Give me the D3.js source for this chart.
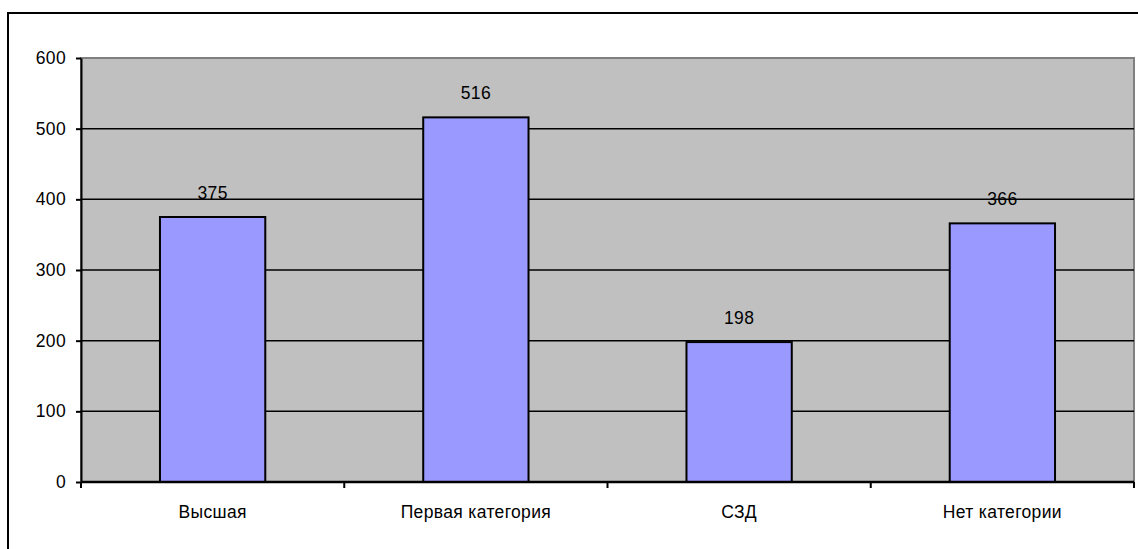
<!DOCTYPE html>
<html>
<head>
<meta charset="utf-8">
<script src="https://cdn.jsdelivr.net/npm/d3@7"></script>
<style>
  body { margin: 0; background: #fff; }
  text { font-family: "Liberation Sans", Arial, sans-serif; font-size: 17.5px; letter-spacing: 0.35px; fill: #000; }
</style>
</head>
<body>
<svg id="chart" width="1138" height="549"></svg>
<script>
var categories = ["Высшая", "Первая категория", "СЗД", "Нет категории"];
var values = [375, 516, 198, 366];
var yTicks = [0, 100, 200, 300, 400, 500, 600];

var margin = {top: 58, right: 4, bottom: 67, left: 81},
    width = 1138 - margin.left - margin.right,
    height = 549 - margin.top - margin.bottom;

var svg = d3.select("#chart");

// outer frame (runs off the right and bottom of the picture)
svg.append("rect")
    .attr("x", 8).attr("y", 13)
    .attr("width", 1140).attr("height", 560)
    .attr("fill", "none")
    .attr("stroke", "#000")
    .attr("stroke-width", 2);

var g = svg.append("g")
    .attr("transform", "translate(" + margin.left + "," + margin.top + ")");

var x = d3.scaleBand().domain(categories).range([0, width]).paddingInner(0).paddingOuter(0);
var y = d3.scaleLinear().domain([0, 600]).range([height, 0]);

// plot area
g.append("rect")
    .attr("width", width).attr("height", height)
    .attr("fill", "#c0c0c0")
    .attr("stroke", "#808080")
    .attr("stroke-width", 2);

// gridlines
g.selectAll(".grid")
    .data(yTicks.filter(function(d) { return d > 0 && d < 600; }))
  .enter().append("line")
    .attr("x1", 0).attr("x2", width)
    .attr("y1", function(d) { return y(d); })
    .attr("y2", function(d) { return y(d); })
    .attr("stroke", "#000")
    .attr("stroke-width", 1.5);

// bars
var bw = x.bandwidth() * 0.4;
g.selectAll(".bar")
    .data(values)
  .enter().append("rect")
    .attr("class", "bar")
    .attr("x", function(d, i) { return x(categories[i]) + (x.bandwidth() - bw) / 2; })
    .attr("y", function(d) { return y(d); })
    .attr("width", bw)
    .attr("height", function(d) { return height - y(d); })
    .attr("fill", "#9999ff")
    .attr("stroke", "#000")
    .attr("stroke-width", 2);

// value labels
g.selectAll(".val")
    .data(values)
  .enter().append("text")
    .attr("x", function(d, i) { return x(categories[i]) + x.bandwidth() / 2; })
    .attr("y", function(d) { return y(d) - 18; })
    .attr("text-anchor", "middle")
    .text(function(d) { return d; });

// y axis
var yAxis = g.append("g")
    .call(d3.axisLeft(y).tickValues(yTicks).tickSize(5).tickSizeOuter(0).tickPadding(10));
yAxis.select(".domain").attr("stroke", "#000").attr("stroke-width", 2);
yAxis.selectAll(".tick line").attr("stroke", "#000").attr("stroke-width", 2);
yAxis.selectAll("text")
    .style("font-size", "17.5px")
    .style("font-family", "Liberation Sans, Arial, sans-serif");

// x axis
var bounds = [0].concat(categories.map(function(c) { return x(c) + x.bandwidth(); }));
var xAxis = g.append("g").attr("transform", "translate(0," + height + ")");
xAxis.append("line")
    .attr("x1", 0).attr("x2", width)
    .attr("stroke", "#000").attr("stroke-width", 2.5);
xAxis.selectAll(".xt")
    .data(bounds)
  .enter().append("line")
    .attr("x1", function(d) { return d; }).attr("x2", function(d) { return d; })
    .attr("y1", 0).attr("y2", 6)
    .attr("stroke", "#000").attr("stroke-width", 2);
xAxis.selectAll(".xl")
    .data(categories)
  .enter().append("text")
    .attr("x", function(d) { return x(d) + x.bandwidth() / 2; })
    .attr("y", 36)
    .attr("text-anchor", "middle")
    .text(function(d) { return d; });
</script>
</body>
</html>
